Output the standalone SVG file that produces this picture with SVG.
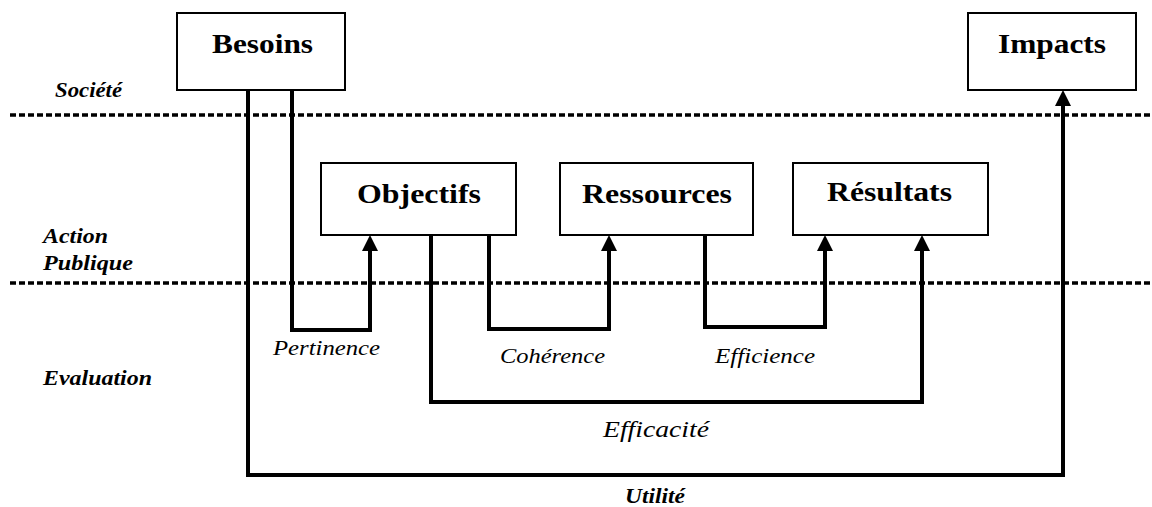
<svg xmlns="http://www.w3.org/2000/svg" width="1152" height="507" viewBox="0 0 1152 507">
<style>
.box{fill:#fff;stroke:#000;stroke-width:2}
.nl{font-family:"Liberation Serif","Times New Roman",serif;font-weight:bold;font-size:28px;fill:#000}
.side{font-family:"Liberation Serif","Times New Roman",serif;font-weight:bold;font-style:italic;font-size:21px;fill:#000}
.cl{font-family:"Liberation Serif","Times New Roman",serif;font-style:italic;font-size:22px;fill:#000}
.sep{stroke:#000;stroke-width:3.5;stroke-dasharray:6 3;fill:none}
.conn{fill:none;stroke:#000;stroke-width:4;stroke-linejoin:miter}
.arr{marker-end:url(#ah)}
</style>
<defs>
<marker id="ah" viewBox="0 0 16 16" refX="11" refY="8" markerWidth="16" markerHeight="16" markerUnits="userSpaceOnUse" orient="auto">
<path d="M0,0 L16,8 L0,16 z" fill="#000"/>
</marker>
</defs>
<rect width="1152" height="507" fill="#fff"/>

<g id="zones">
<line class="sep" x1="10" y1="115" x2="1152" y2="115"/>
<line class="sep" x1="10" y1="283" x2="1152" y2="283"/>
<text class="side" x="55" y="97" textLength="67" lengthAdjust="spacingAndGlyphs">Société</text>
<text class="side" x="43" y="243" textLength="65" lengthAdjust="spacingAndGlyphs">Action</text>
<text class="side" x="43" y="270" textLength="90" lengthAdjust="spacingAndGlyphs">Publique</text>
<text class="side" x="43" y="385" textLength="109" lengthAdjust="spacingAndGlyphs">Evaluation</text>
</g>

<g id="connectors">
<path class="conn arr" d="M292,90 V330 H370 V240"/>
<path class="conn arr" d="M489,235 V329 H609 V240"/>
<path class="conn arr" d="M705,235 V327 H825 V240"/>
<path class="conn arr" d="M431,235 V402 H922 V240"/>
<path class="conn arr" d="M248,90 V475 H1063 V95"/>
<text class="cl" x="273" y="355" textLength="107" lengthAdjust="spacingAndGlyphs">Pertinence</text>
<text class="cl" x="500" y="363" textLength="105" lengthAdjust="spacingAndGlyphs">Cohérence</text>
<text class="cl" x="715" y="363" textLength="100" lengthAdjust="spacingAndGlyphs">Efficience</text>
<text class="cl" x="603" y="437" style="font-size:24px" textLength="106" lengthAdjust="spacingAndGlyphs">Efficacité</text>
<text class="side" x="625" y="503" textLength="60" lengthAdjust="spacingAndGlyphs">Utilité</text>
</g>

<g id="besoins">
<rect class="box" x="177" y="13" width="168" height="77"/>
<text class="nl" x="212" y="53" textLength="101" lengthAdjust="spacingAndGlyphs">Besoins</text>
</g>
<g id="impacts">
<rect class="box" x="968" y="13" width="168" height="77"/>
<text class="nl" x="998" y="53" textLength="108" lengthAdjust="spacingAndGlyphs">Impacts</text>
</g>
<g id="objectifs">
<rect class="box" x="321" y="163" width="195" height="72"/>
<text class="nl" x="357" y="203" textLength="124" lengthAdjust="spacingAndGlyphs">Objectifs</text>
</g>
<g id="ressources">
<rect class="box" x="560" y="163" width="193" height="72"/>
<text class="nl" x="582" y="203" textLength="150" lengthAdjust="spacingAndGlyphs">Ressources</text>
</g>
<g id="resultats">
<rect class="box" x="793" y="163" width="195" height="72"/>
<text class="nl" x="827" y="201" textLength="125" lengthAdjust="spacingAndGlyphs">Résultats</text>
</g>
</svg>
